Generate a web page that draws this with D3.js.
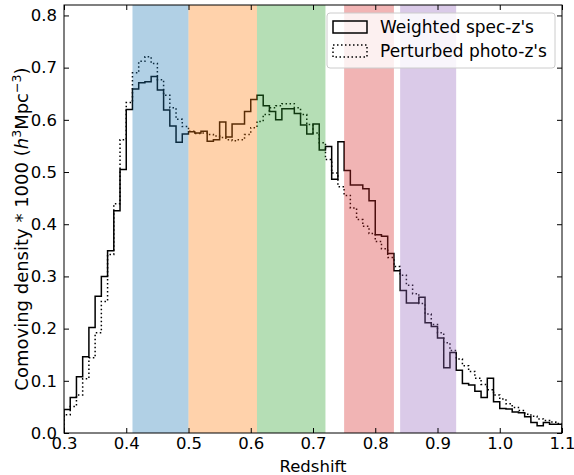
<!DOCTYPE html>
<html><head><meta charset="utf-8">
<script src="https://cdn.jsdelivr.net/npm/d3@7"></script>
<style>
body{margin:0;background:#fff;}
svg text{font-family:"DejaVu Sans",sans-serif;}
</style></head>
<body><svg id="chart" width="574" height="475"></svg>
<script>
// ---- data ----
const binStart = 0.30, binWidth = 0.01;
const specZ = [0.045,0.068,0.108,0.146,0.202,0.262,0.300,0.349,0.426,0.505,
  0.620,0.659,0.671,0.673,0.683,0.657,0.619,0.588,0.557,0.573,
  0.577,0.575,0.578,0.559,0.562,0.596,0.567,0.592,0.592,0.616,
  0.639,0.647,0.627,0.616,0.600,0.621,0.621,0.612,0.590,0.573,
  0.592,0.542,0.549,0.486,0.558,0.503,0.475,0.475,0.468,0.445,
  0.380,0.377,0.344,0.311,0.273,0.249,0.249,0.260,0.211,0.204,
  0.182,0.125,0.154,0.120,0.095,0.092,0.080,0.068,0.105,0.060,
  0.047,0.046,0.040,0.039,0.031,0.020,0.014,0.020,0.017,0.017];
const photoZ = [0.035,0.051,0.073,0.104,0.144,0.192,0.252,0.342,0.439,0.562,
  0.633,0.690,0.712,0.721,0.708,0.677,0.647,0.623,0.601,0.587,
  0.578,0.574,0.575,0.572,0.569,0.566,0.562,0.560,0.562,0.572,
  0.585,0.597,0.610,0.623,0.627,0.631,0.631,0.623,0.610,0.591,
  0.575,0.556,0.524,0.498,0.472,0.455,0.431,0.409,0.396,0.382,
  0.367,0.353,0.336,0.319,0.302,0.283,0.267,0.248,0.228,0.208,
  0.192,0.173,0.158,0.142,0.129,0.118,0.105,0.093,0.083,0.073,
  0.065,0.056,0.049,0.043,0.036,0.032,0.027,0.024,0.021,0.018];
const bands = [
  {lo:0.41, hi:0.50, color:"#1f77b4"},
  {lo:0.50, hi:0.61, color:"#ff7f0e"},
  {lo:0.61, hi:0.72, color:"#2ca02c"},
  {lo:0.75, hi:0.83, color:"#d62728"},
  {lo:0.84, hi:0.93, color:"#9467bd"}];
const xTicks = [0.3,0.4,0.5,0.6,0.7,0.8,0.9,1.0,1.1];
const yTicks = [0.0,0.1,0.2,0.3,0.4,0.5,0.6,0.7,0.8];
const seriesNames = ["Weighted spec-z's","Perturbed photo-z's"];

// ---- layout ----
const svg = d3.select("#chart");
const L=64, R=562, T=5, B=433;
const x = d3.scaleLinear().domain([0.3,1.1]).range([L,R]);
const y = d3.scaleLinear().domain([0,0.82]).range([B,T]);
const FS = 16.5;

svg.append("defs").append("clipPath").attr("id","clip")
  .append("rect").attr("x",L).attr("y",T).attr("width",R-L).attr("height",B-T);
const plot = svg.append("g").attr("clip-path","url(#clip)");

function stepPoints(vals){
  const pts = [[binStart,0]];
  vals.forEach((v,i)=>{
    const a = binStart + i*binWidth, b = binStart + (i+1)*binWidth;
    pts.push([a,v]); pts.push([b,v]);
  });
  pts.push([binStart+vals.length*binWidth,0]);
  return pts;
}
const line = d3.line().x(d=>x(d[0])).y(d=>y(d[1]));

plot.append("path").attr("d",line(stepPoints(specZ)))
  .attr("fill","none").attr("stroke","#000").attr("stroke-width",1.5)
  .attr("stroke-linejoin","miter");
plot.append("path").attr("d",line(stepPoints(photoZ)))
  .attr("fill","none").attr("stroke","#000").attr("stroke-width",1.5)
  .attr("stroke-dasharray","1.5,2.5");

// bands drawn over lines
plot.selectAll("rect.band").data(bands).enter().append("rect")
  .attr("class","band")
  .attr("x",d=>x(d.lo)).attr("width",d=>x(d.hi)-x(d.lo))
  .attr("y",T).attr("height",B-T)
  .attr("fill",d=>d.color).attr("fill-opacity",0.35);

// axes
function styleAxis(g){
  g.select(".domain").remove();
  g.selectAll(".tick line").attr("stroke","#000").attr("stroke-width",1);
  g.selectAll(".tick text").attr("font-size",FS).attr("fill","#000")
    .attr("font-family","DejaVu Sans");
}
svg.append("g").attr("transform",`translate(0,${B})`)
  .call(d3.axisBottom(x).tickValues(xTicks).tickFormat(d3.format(".1f"))
    .tickSizeInner(-5).tickSizeOuter(0).tickPadding(4))
  .call(styleAxis);
svg.append("g").attr("transform",`translate(0,${T})`)
  .call(d3.axisTop(x).tickValues(xTicks).tickFormat("")
    .tickSizeInner(-5).tickSizeOuter(0))
  .call(styleAxis);
svg.append("g").attr("transform",`translate(${L},0)`)
  .call(d3.axisLeft(y).tickValues(yTicks).tickFormat(d3.format(".1f"))
    .tickSizeInner(-5).tickSizeOuter(0).tickPadding(7))
  .call(styleAxis);
svg.append("g").attr("transform",`translate(${R},0)`)
  .call(d3.axisRight(y).tickValues(yTicks).tickFormat("")
    .tickSizeInner(-5).tickSizeOuter(0))
  .call(styleAxis);

// frame
svg.append("rect").attr("x",L).attr("y",T).attr("width",R-L).attr("height",B-T)
  .attr("fill","none").attr("stroke","#000").attr("stroke-width",1);

// axis labels
svg.append("text").attr("x",(L+R)/2).attr("y",472).attr("text-anchor","middle")
  .attr("font-size",FS).text("Redshift");
const YFS = 18;
const yl = svg.append("text").attr("transform",`translate(28,229) rotate(-90)`)
  .attr("text-anchor","middle").attr("font-size",YFS);
yl.append("tspan").text("Comoving density * 1000 (");
yl.append("tspan").attr("font-style","italic").text("h");
yl.append("tspan").attr("font-size",YFS*0.7).attr("dy",-7).text("3");
yl.append("tspan").attr("dy",7).text("Mpc");
yl.append("tspan").attr("font-size",YFS*0.7).attr("dy",-7).text("\u22123");
yl.append("tspan").attr("dy",7).text(")");

// legend
const LFS = 17;
const lg = svg.append("g");
lg.append("rect").attr("x",327).attr("y",13).attr("width",228).attr("height",55)
  .attr("rx",3).attr("fill","#fff").attr("fill-opacity",0.8)
  .attr("stroke","#cccccc").attr("stroke-width",1);
seriesNames.forEach((name,i)=>{
  const cy = 27 + i*24;
  lg.append("rect").attr("x",333).attr("y",cy-6).attr("width",34).attr("height",12)
    .attr("fill","none").attr("stroke","#000").attr("stroke-width",1.5)
    .attr("stroke-dasharray", i===0 ? null : "1.5,2.5");
  lg.append("text").attr("x",380).attr("y",cy).attr("dy","0.35em")
    .attr("font-size",LFS).text(name);
});
</script></body></html>
